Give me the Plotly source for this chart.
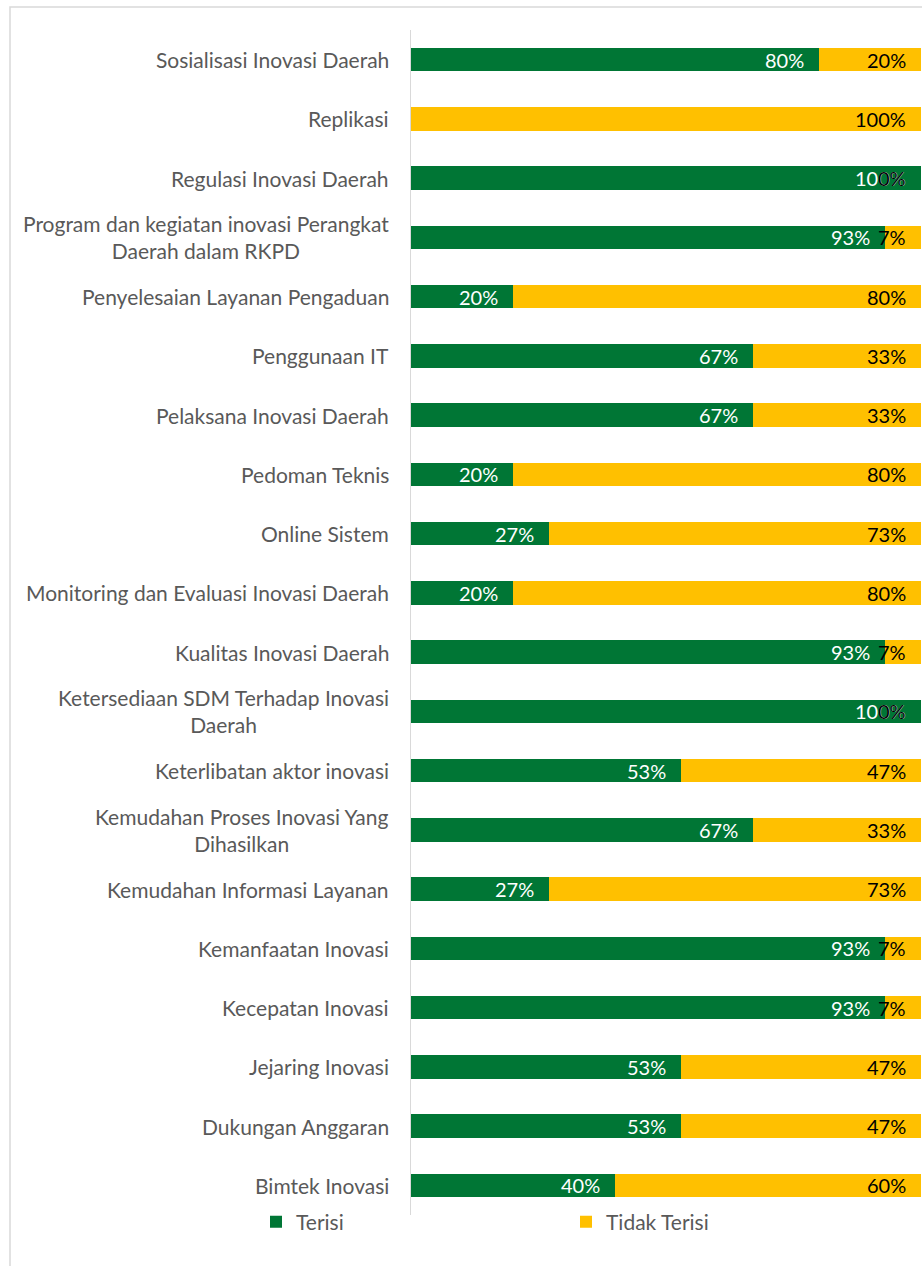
import plotly.graph_objects as go

categories = [
    "Sosialisasi Inovasi Daerah",
    "Replikasi",
    "Regulasi Inovasi Daerah",
    "Program dan kegiatan inovasi Perangkat<br>Daerah dalam RKPD",
    "Penyelesaian Layanan Pengaduan",
    "Penggunaan IT",
    "Pelaksana Inovasi Daerah",
    "Pedoman Teknis",
    "Online Sistem",
    "Monitoring dan Evaluasi Inovasi Daerah",
    "Kualitas Inovasi Daerah",
    "Ketersediaan SDM Terhadap Inovasi<br>Daerah",
    "Keterlibatan aktor inovasi",
    "Kemudahan Proses Inovasi Yang<br>Dihasilkan",
    "Kemudahan Informasi Layanan",
    "Kemanfaatan Inovasi",
    "Kecepatan Inovasi",
    "Jejaring Inovasi",
    "Dukungan Anggaran",
    "Bimtek Inovasi",
]
terisi = [80, 0, 100, 93, 20, 67, 67, 20, 27, 20, 93, 100, 53, 67, 27, 93, 93, 53, 53, 40]
tidak_terisi = [20, 100, 0, 7, 80, 33, 33, 80, 73, 80, 7, 0, 47, 33, 73, 7, 7, 47, 47, 60]

GREEN = "#007635"
YELLOW = "#FFC000"
FONT = "Lato"
W, H = 922, 1266
ML, MR, MT, MB = 411, 1, 30, 51

fig = go.Figure()
fig.add_trace(go.Bar(
    y=categories, x=terisi, name="Terisi", orientation="h",
    marker=dict(color=GREEN, line=dict(width=0)),
))
fig.add_trace(go.Bar(
    y=categories, x=tidak_terisi, name="Tidak Terisi", orientation="h",
    marker=dict(color=YELLOW, line=dict(width=0)),
))

annotations = []
# category labels, centred across wrapped lines
for cat in categories:
    annotations.append(dict(
        x=0, xref="paper", y=cat, yref="y", xanchor="right", xshift=-20,
        text=cat, showarrow=False, align="center",
        font=dict(family=FONT, size=21, color="#595959"),
    ))
# value labels at the inner end of each segment
for cat, g, t in zip(categories, terisi, tidak_terisi):
    if g > 0:
        annotations.append(dict(
            x=g, y=cat, xref="x", yref="y", xanchor="right", xshift=-13,
            text=f"{g}%", showarrow=False,
            font=dict(family=FONT, size=20, color="white"),
        ))
    annotations.append(dict(
        x=g + t, y=cat, xref="x", yref="y", xanchor="right", xshift=-13,
        text=f"{t}%", showarrow=False,
        font=dict(family=FONT, size=20, color="black"),
    ))

pw = W - ML - MR
ph = H - MT - MB
# outer chart border (left and top edges visible)
shapes = [dict(
    type="rect", xref="paper", yref="paper",
    x0=(10 - ML) / pw, x1=(W + 20 - ML) / pw,
    y0=-(H + 20 - MT - ph) / ph, y1=1 + (MT - 7) / ph,
    line=dict(color="#D9D9D9", width=1.5), layer="below",
)]

fig.update_layout(
    width=W, height=H,
    margin=dict(l=ML, r=MR, t=MT, b=MB),
    barmode="stack", bargap=0.6,
    paper_bgcolor="white", plot_bgcolor="white",
    xaxis=dict(range=[0, 100], visible=False, fixedrange=True),
    yaxis=dict(
        autorange="reversed", showticklabels=False, ticks="",
        showline=True, linecolor="#D9D9D9", linewidth=1, showgrid=False,
        zeroline=False,
    ),
    showlegend=True,
    legend=dict(
        orientation="h", x=(256 - ML) / pw, xanchor="left",
        y=-(1222 - (H - MB)) / ph, yanchor="middle",
        entrywidth=265, entrywidthmode="pixels",
        font=dict(family=FONT, size=21, color="#595959"),
        traceorder="normal", bgcolor="rgba(0,0,0,0)",
    ),
    annotations=annotations,
    shapes=shapes,
)

fig.write_html("out.html")
